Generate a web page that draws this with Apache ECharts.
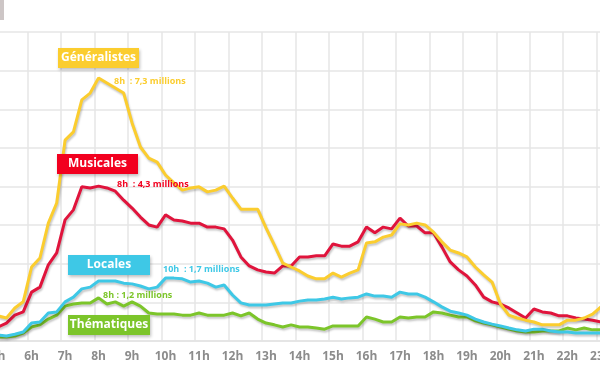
<!DOCTYPE html>
<html><head><meta charset="utf-8">
<script src="https://cdn.jsdelivr.net/npm/echarts@6/dist/echarts.min.js"></script>
<style>html,body{margin:0;padding:0;background:#fff}#c{width:600px;height:372px}</style>
</head><body><div id="c"></div>
<script>
// Hours shown on the axis (quarter-hour data, 5h00 .. 23h00)
const hours = ['5h','6h','7h','8h','9h','10h','11h','12h','13h','14h','15h','16h','17h','18h','19h','20h','21h','22h','23h'];
const quarters = ['00','15','30','45'];
const categories = [];
hours.forEach(function (h, k) {
  quarters.forEach(function (q, j) {
    if (k < hours.length - 1 || j === 0) categories.push(h + q);
  });
});

// Audience in millions
const generalistes = [0.70,0.64,0.92,1.09,2.06,2.31,3.28,3.84,5.59,5.82,6.71,6.90,7.32,7.18,7.04,6.90,
  6.07,5.40,5.09,4.98,4.62,4.40,4.20,4.26,4.29,4.15,4.20,4.31,3.98,3.67,3.67,3.67,
  3.15,2.67,2.17,2.06,1.95,1.81,1.73,1.73,1.89,1.78,1.89,1.98,2.73,2.76,2.89,2.95,
  3.26,3.23,3.28,3.23,3.03,2.76,2.53,2.45,2.34,2.06,1.84,1.64,1.03,0.72,0.64,0.58,
  0.53,0.45,0.45,0.45,0.58,0.58,0.64,0.75,0.95];
const musicales = [0.39,0.50,0.72,0.81,1.36,1.50,2.12,2.45,3.37,3.65,4.29,4.26,4.31,4.26,4.17,3.92,
  3.70,3.45,3.23,3.17,3.51,3.37,3.34,3.28,3.28,3.17,3.17,3.12,2.81,2.34,2.09,1.98,
  1.92,1.89,2.09,2.09,2.34,2.34,2.37,2.37,2.70,2.64,2.64,2.76,3.17,3.01,3.17,3.12,
  3.42,3.20,3.20,3.01,3.01,2.62,2.20,1.98,1.81,1.56,1.22,1.09,1.03,0.92,0.78,0.64,
  0.89,0.81,0.78,0.70,0.70,0.64,0.61,0.58,0.53];
const locales = [0.17,0.14,0.19,0.25,0.50,0.53,0.78,0.81,1.09,1.22,1.45,1.50,1.67,1.67,1.67,1.61,
  1.59,1.53,1.45,1.50,1.75,1.75,1.73,1.64,1.67,1.61,1.50,1.56,1.28,1.06,1.00,1.00,
  1.00,1.03,1.06,1.06,1.11,1.14,1.14,1.17,1.22,1.17,1.20,1.22,1.31,1.25,1.25,1.22,
  1.36,1.31,1.31,1.22,1.09,0.95,0.83,0.78,0.72,0.61,0.53,0.47,0.42,0.36,0.31,0.28,
  0.33,0.33,0.28,0.25,0.25,0.22,0.22,0.22,0.22];
const thematiques = [0.11,0.11,0.14,0.22,0.39,0.45,0.61,0.72,0.97,1.03,1.06,1.06,1.20,1.03,1.09,0.97,
  1.09,0.97,0.78,0.75,0.75,0.75,0.72,0.72,0.78,0.72,0.72,0.72,0.78,0.70,0.78,0.61,
  0.50,0.45,0.39,0.45,0.39,0.39,0.36,0.33,0.42,0.42,0.42,0.42,0.67,0.61,0.53,0.53,
  0.67,0.64,0.67,0.67,0.81,0.78,0.72,0.67,0.67,0.56,0.50,0.45,0.39,0.33,0.28,0.25,
  0.25,0.28,0.28,0.28,0.36,0.31,0.36,0.31,0.31];

const names = ['Généralistes','Musicales','Locales','Thématiques'];
const peakNotes = ['8h  : 7,3 millions','8h  : 4,3 millions','10h  : 1,7 millions','8h : 1,2 millions'];

const YELLOW = '#fbcd2f', RED = '#e0143c', CYAN = '#3ec8e6', GREEN = '#7cc52a';
const BOX_RED = '#f2001f';

function lineSeries(name, data, color, z) {
  return {
    name: name, type: 'line', data: data, symbol: 'none', z: z,
    lineStyle: { color: color, width: 3, shadowColor: 'rgba(0,0,0,0.22)', shadowBlur: 2, shadowOffsetX: 1, shadowOffsetY: 2 },
    itemStyle: { color: color }, animation: false
  };
}

function box(x, y, w, h, fill, label) {
  return [
    { type: 'rect', shape: { x: x, y: y, width: w, height: h }, z: 10,
      style: { fill: fill, shadowColor: 'rgba(0,0,0,0.25)', shadowBlur: 3, shadowOffsetX: 1, shadowOffsetY: 2 } },
    { type: 'text', x: x + w / 2, y: y + h / 2, z: 11,
      style: { text: label, fill: '#fff', font: 'bold 12px "Open Sans"', align: 'center', verticalAlign: 'middle' } }
  ];
}
function note(x, y, color, txt) {
  return { type: 'text', x: x, y: y, z: 11,
    style: { text: txt, fill: color, font: 'bold 9px "Open Sans"', align: 'left', verticalAlign: 'middle' } };
}

const chart = echarts.init(document.getElementById('c'), null, { renderer: 'canvas' });
chart.setOption({
  animation: false,
  backgroundColor: '#ffffff',
  grid: { left: -6.1, right: -5.1, top: 32, bottom: 31, containLabel: false, outerBoundsMode: 'none' },
  xAxis: {
    type: 'category', data: categories, boundaryGap: true,
    axisLine: { show: true, lineStyle: { color: '#e3e3e3', width: 1.5 } },
    axisTick: { show: false, interval: 3 },
    splitLine: { show: true, interval: 3, lineStyle: { color: '#e6e6e6', width: 1.5 } },
    axisLabel: { interval: 3, margin: 10, color: '#8c8c8c', fontFamily: 'Open Sans', fontWeight: 'bold', fontSize: 12,
      formatter: function (v) { return v.split('h')[0] + 'h'; } }
  },
  yAxis: {
    type: 'value', min: 0, max: 8.6, interval: 1.075,
    axisLine: { show: false }, axisTick: { show: false }, axisLabel: { show: false },
    splitLine: { show: true, lineStyle: { color: '#e6e6e6', width: 1.5 } }
  },
  series: [
    lineSeries(names[3], thematiques, GREEN, 2),
    lineSeries(names[2], locales, CYAN, 3),
    lineSeries(names[1], musicales, RED, 4),
    lineSeries(names[0], generalistes, YELLOW, 5)
  ],
  graphic: [
    { type: 'rect', shape: { x: 0, y: 0, width: 4, height: 20 }, style: { fill: '#cdc6c6' } }
  ].concat(
    box(58, 48, 81, 20, YELLOW, names[0]),
    box(57, 154, 81, 20, BOX_RED, names[1]),
    box(68, 255, 82, 20, CYAN, names[2]),
    box(68, 315, 82, 20, GREEN, names[3]),
    [
      note(114, 81, YELLOW, peakNotes[0]),
      note(117, 184, BOX_RED, peakNotes[1]),
      note(163, 269, CYAN, peakNotes[2]),
      note(103, 295, GREEN, peakNotes[3])
    ]
  )
});
</script>
</body></html>
